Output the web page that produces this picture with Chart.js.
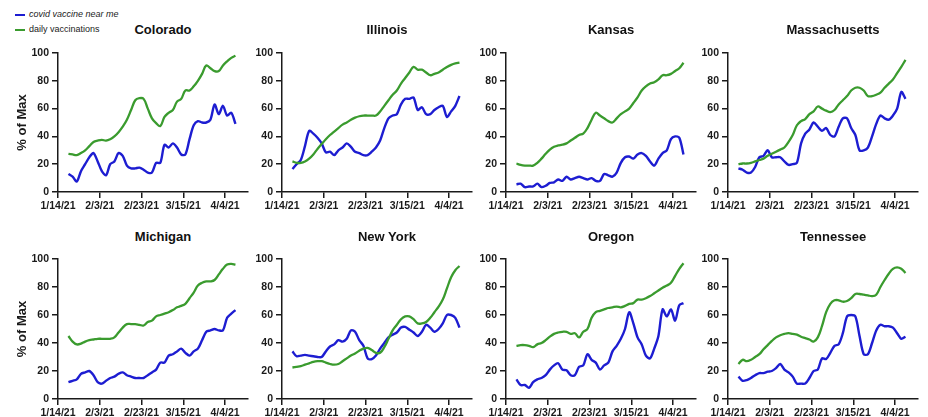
<!DOCTYPE html>
<html lang="en">
<head>
    <meta charset="UTF-8">
    <title>Vaccine searches vs daily vaccinations</title>
    <script src="https://cdn.jsdelivr.net/npm/chart.js"></script>
    <style>
        body { margin: 0; background: #fff; font-family: "Liberation Sans", Arial, sans-serif; }
        #wrap { position: relative; width: 928px; height: 417px; overflow: hidden; }
        #wrap canvas { position: absolute; }
        .title { position: absolute; width: 200px; margin-left: -100px; text-align: center;
                 font-weight: bold; font-size: 13px; line-height: 16px; color: #111; }
        .legend-item { position: absolute; left: 15px; font-size: 9px; line-height: 12px; color: #222; white-space: nowrap; }
        .legend-item .swatch { display: inline-block; width: 10px; height: 2px; vertical-align: middle; margin-right: 4px; }
    </style>
</head>
<body>
<div id="wrap">
    <div class="legend-item" style="top: 8px;"><span class="swatch" style="background:#1d1dd1"></span><i>covid vaccine near me</i></div>
    <div class="legend-item" style="top: 23px;"><span class="swatch" style="background:#3a9b2e"></span>daily vaccinations</div>
</div>

<script>
// days since 1/14/21 at which values were read
const days = [5, 7, 9, 11, 13, 15, 17, 19, 21, 23, 25, 27, 29, 31, 33, 35, 37, 39, 41, 43,
              45, 47, 49, 51, 53, 55, 57, 59, 61, 63, 65, 67, 69, 71, 73, 75, 77, 79, 81, 83, 85];

const tickDays = [0, 20, 40, 60, 80];
const tickLabels = ['1/14/21', '2/3/21', '2/23/21', '3/15/21', '4/4/21'];
const yTicks = [0, 20, 40, 60, 80, 100];

const states = ['Colorado', 'Illinois', 'Kansas', 'Massachusetts', 'Michigan', 'New York', 'Oregon', 'Tennessee'];

// "covid vaccine near me" search interest, % of max
const coloradoSearch = [13, 11, 7.5, 15, 20, 25, 28, 22, 15, 12, 20, 22, 28, 26, 19, 17, 17, 17.5, 16, 14,
                        14, 21, 21, 34, 32, 35, 32, 27, 27, 38, 48, 51, 50, 50, 52, 63, 56, 62, 55, 57, 49];
const illinoisSearch = [16.5, 20, 23, 33, 44, 42, 39, 35, 28.5, 29, 26.5, 30, 32, 35, 32.5, 29, 28, 26.5, 26.5, 29,
                        32, 37, 46, 53, 55, 56, 63, 67, 67, 68, 59, 61, 56, 56, 59, 61, 62, 54, 58, 62, 69];
const kansasSearch = [5.5, 6, 3.5, 4, 4, 6, 3.5, 4.5, 6.5, 7, 9, 8, 11, 9, 10, 11, 10, 9, 10, 8,
                      8, 13, 12, 11, 14, 21, 25, 25.5, 24, 27, 28, 26, 22, 19, 24, 28, 30, 38, 40, 39, 27];
const massSearch = [17, 16, 14, 14, 18, 25, 26, 30, 25, 25, 25, 22, 19.5, 20, 21, 35, 42, 45, 50, 47,
                    44, 46, 41, 40, 47, 53, 53, 46, 41, 30, 30, 32, 40, 49, 55, 53, 52, 55, 60, 72, 67];
const michiganSearch = [12, 13, 14, 18, 19, 20, 17, 12, 11, 13, 15, 16, 18, 19, 17, 16, 15, 15, 15, 17,
                        19, 21, 26, 26, 31, 32, 34, 36, 33, 31, 34, 36, 42, 48, 49, 50, 49, 49, 58, 61, 63.5];
const newYorkSearch = [34, 30.5, 31, 31.5, 31, 30.5, 30, 30, 34, 37.5, 39, 42, 41, 43, 49, 48, 42, 38, 29, 28.5,
                       31, 36, 40, 44, 46, 47.5, 51, 51.5, 49.5, 47.5, 45, 48, 53, 51, 48, 50, 54, 60, 60, 58, 51];
const oregonSearch = [14, 10, 10, 8, 12, 14, 15, 17, 21, 24, 25.5, 21, 20.5, 17, 17, 23, 24, 32, 28, 26,
                      21, 24, 26, 34, 38, 43, 50, 62, 54, 44, 39, 31, 29, 36, 45, 64, 59, 64, 56, 67, 68.5];
const tennesseeSearch = [16, 13, 13.5, 15, 17, 18.5, 18.5, 19.5, 20, 22, 25, 21, 19, 16, 11, 11, 11, 15, 20, 21,
                         29, 28.5, 33, 38, 39, 47, 59, 60, 59, 45, 32, 32, 40, 49, 53, 52, 52, 51, 47, 43, 44.5];

// daily vaccinations, % of max
const coloradoVacc = [27.5, 27, 26.5, 28, 30, 33, 36, 37, 37.5, 37, 38, 40, 43, 47, 52, 59, 66, 67.5, 67, 60,
                      53, 49.5, 47.5, 54, 57, 59, 65, 67, 73, 73, 76, 80, 85, 91, 89, 87, 87, 91, 94, 96.5, 98];
const illinoisVacc = [22, 21, 21, 22, 24, 27, 31, 34.5, 38, 41, 43.5, 46, 48.5, 50, 52, 53.5, 54.5, 55, 55, 55,
                      55, 58, 62, 66, 70, 73, 78, 82, 86, 90, 88, 88, 86, 84, 85, 86, 88, 90, 91.5, 92.5, 93];
const kansasVacc = [20.5, 19.5, 19, 19, 19, 21, 24, 27.5, 30.5, 32.5, 33.5, 34, 35, 37, 39, 41, 42, 46, 52, 57,
                    55, 53, 51, 50, 53, 56, 58, 60, 64, 68, 73, 76, 78, 79, 81, 84, 84, 85, 87, 89, 93];
const massVacc = [20, 20.5, 20.5, 21, 22, 23, 24, 26, 27.5, 29, 30.5, 32, 36, 41, 48, 51, 52.5, 56, 58, 61.5,
                  60, 58.5, 57.5, 59, 63, 66, 69, 73, 75, 75, 73, 69, 69, 70, 71.5, 75, 78, 81, 85.5, 90, 95];
const michiganVacc = [45, 41, 39, 39.5, 41, 42, 42.5, 43, 43, 43, 43, 44, 47.5, 51, 53.5, 53.5, 53.5, 53, 52.5, 55,
                      56, 59, 60, 61, 62, 63.5, 65.5, 66.5, 68, 72, 76, 81, 83, 84, 84, 85, 89, 93, 96, 96.5, 96];
const newYorkVacc = [22.5, 23, 23.5, 24.5, 25.5, 26.5, 27, 27, 26, 25, 24.5, 25, 27, 29, 31, 32.5, 34.5, 36, 36.5, 35,
                     33, 33, 37, 43, 49, 53, 57, 59, 59, 57, 54, 54, 55, 58, 62, 66, 71, 79, 87, 92, 95];
const oregonVacc = [38, 38.5, 38.5, 38, 37, 39, 40, 42, 44.5, 46.5, 47.5, 48, 48, 46.5, 47, 44, 48, 50, 58, 62,
                    63, 64, 65, 65.5, 66, 65.5, 66.5, 68, 68.5, 71, 71, 72, 73.5, 75.5, 77.5, 79.5, 81, 83, 88, 93, 97];
const tennesseeVacc = [25, 28, 27, 28, 30, 32, 35.5, 38.5, 41.5, 44, 45.5, 46.5, 47, 46.5, 46, 44.5, 43.5, 42.5, 41, 44,
                       52, 62, 68, 70.5, 70.5, 69.5, 70, 72, 75, 75, 74.5, 74, 73.5, 74.5, 80, 85, 89.5, 93, 94, 93, 90];

const searchSeries = [coloradoSearch, illinoisSearch, kansasSearch, massSearch,
                      michiganSearch, newYorkSearch, oregonSearch, tennesseeSearch];
const vaccSeries = [coloradoVacc, illinoisVacc, kansasVacc, massVacc,
                    michiganVacc, newYorkVacc, oregonVacc, tennesseeVacc];

const BLUE = '#1d1dd1';
const GREEN = '#3a9b2e';
const AXIS = '#1a1a1a';
const FONT = '"Liberation Sans", Arial, sans-serif';

// panel geometry: x of each y axis, top of plot per row
const colX = [58, 282, 506, 728];
const rowTop = [53, 259];
const plotH = [139, 140];
const plotW = 190;
const Y_AXIS_W = 58;
const X_AXIS_H = 22;

const wrap = document.getElementById('wrap');

function toPoints(values) {
    return values.map((v, i) => ({ x: days[i], y: v }));
}

states.forEach((state, i) => {
    const col = i % 4;
    const row = Math.floor(i / 4);

    const canvas = document.createElement('canvas');
    const w = Y_AXIS_W + plotW + 6;
    const h = 13 + plotH[row] + X_AXIS_H;
    canvas.width = w;
    canvas.height = h;
    canvas.style.left = (colX[col] - Y_AXIS_W) + 'px';
    canvas.style.top = (rowTop[row] - 13) + 'px';
    canvas.style.width = w + 'px';
    canvas.style.height = h + 'px';
    wrap.appendChild(canvas);

    const title = document.createElement('div');
    title.className = 'title';
    title.textContent = state;
    title.style.left = (colX[col] + 105) + 'px';
    title.style.top = (row === 0 ? 22 : 229) + 'px';
    wrap.appendChild(title);

    new Chart(canvas.getContext('2d'), {
        type: 'line',
        data: {
            datasets: [
                {
                    label: 'daily vaccinations',
                    data: toPoints(vaccSeries[i]),
                    borderColor: GREEN,
                    borderWidth: 2.3,
                    pointRadius: 0,
                    tension: 0.4,
                    fill: false
                },
                {
                    label: 'covid vaccine near me',
                    data: toPoints(searchSeries[i]),
                    borderColor: BLUE,
                    borderWidth: 2.4,
                    pointRadius: 0,
                    tension: 0.3,
                    fill: false
                }
            ]
        },
        options: {
            responsive: false,
            animation: false,
            layout: { padding: { top: 13, right: 6, left: 0, bottom: 0 } },
            scales: {
                x: {
                    type: 'linear',
                    min: 0,
                    max: 91,
                    afterFit: scale => { scale.height = X_AXIS_H; },
                    afterBuildTicks: scale => { scale.ticks = tickDays.map(v => ({ value: v })); },
                    ticks: {
                        autoSkip: false,
                        maxRotation: 0,
                        padding: 2,
                        color: AXIS,
                        font: { family: FONT, size: 10.5, weight: 'bold' },
                        callback: value => tickLabels[tickDays.indexOf(value)]
                    },
                    grid: { drawOnChartArea: false, drawTicks: true, tickLength: 6, color: AXIS, lineWidth: 1.5 },
                    border: { display: true, color: AXIS, width: 1.5 }
                },
                y: {
                    min: 0,
                    max: 100,
                    afterFit: scale => { scale.width = Y_AXIS_W; },
                    afterBuildTicks: scale => { scale.ticks = yTicks.map(v => ({ value: v })); },
                    ticks: {
                        padding: 3,
                        color: AXIS,
                        font: { family: FONT, size: 10.5, weight: 'bold' }
                    },
                    title: {
                        display: col === 0,
                        text: '% of Max',
                        color: AXIS,
                        padding: { top: 15, bottom: 0 },
                        font: { family: FONT, size: 13, weight: 'bold' }
                    },
                    grid: { drawOnChartArea: false, drawTicks: true, tickLength: 6, color: AXIS, lineWidth: 1.5 },
                    border: { display: true, color: AXIS, width: 1.5 }
                }
            },
            plugins: {
                legend: { display: false },
                tooltip: { enabled: false }
            }
        }
    });
});
</script>
</body>
</html>
